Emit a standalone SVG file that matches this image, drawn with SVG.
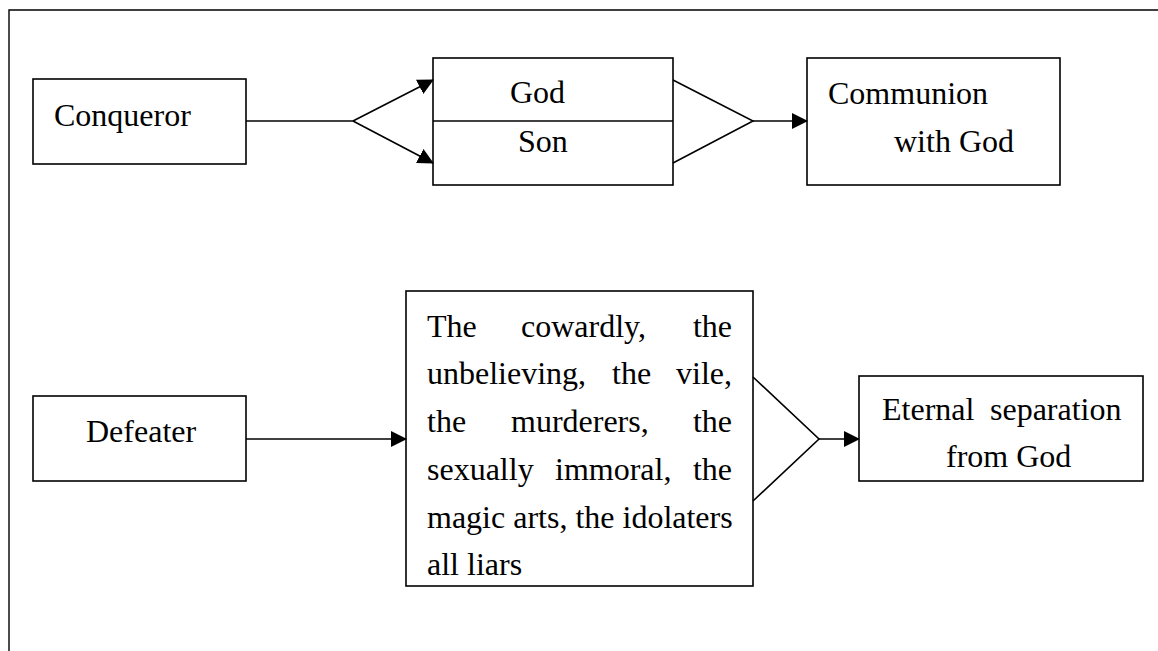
<svg xmlns="http://www.w3.org/2000/svg" width="1158" height="651" viewBox="0 0 1158 651">
<style>
.box{fill:#fff;stroke:#000;stroke-width:1.6}
.ln{fill:none;stroke:#000;stroke-width:1.6}
.t{font-family:"Liberation Serif","Times New Roman",serif;font-size:32px;fill:#000}
</style>
<defs>
<marker id="ah" markerUnits="userSpaceOnUse" markerWidth="16" markerHeight="16" viewBox="0 0 16 16" refX="15" refY="8" orient="auto">
<path d="M0,0 L16,8 L0,16 z" fill="#000"/>
</marker>
</defs>
<rect width="1158" height="651" fill="#fff"/>
<path d="M9,651 V10 H1158" fill="none" stroke="#000" stroke-width="1.4"/>

<g id="conqueror">
<rect class="box" x="33" y="79" width="213" height="85"/>
<text class="t" x="54" y="126">Conqueror</text>
</g>
<g id="god-son">
<rect class="box" x="433" y="58" width="240" height="127"/>
<line class="ln" x1="433" y1="121" x2="673" y2="121"/>
<text class="t" x="510" y="103">God</text>
<text class="t" x="518" y="152">Son</text>
</g>
<g id="communion">
<rect class="box" x="807" y="58" width="253" height="127"/>
<text class="t" x="828" y="104">Communion</text>
<text class="t" x="894" y="152">with God</text>
</g>
<g id="defeater">
<rect class="box" x="33" y="396" width="213" height="85"/>
<text class="t" x="86" y="442">Defeater</text>
</g>
<g id="sinners">
<rect class="box" x="406" y="291" width="347" height="295"/>
<text class="t" y="337"><tspan x="427">The</tspan><tspan x="521">cowardly,</tspan><tspan x="732" text-anchor="end">the</tspan></text>
<text class="t" y="384"><tspan x="427">unbelieving,</tspan><tspan x="612">the</tspan><tspan x="732" text-anchor="end">vile,</tspan></text>
<text class="t" y="432"><tspan x="427">the</tspan><tspan x="511">murderers,</tspan><tspan x="732" text-anchor="end">the</tspan></text>
<text class="t" y="480"><tspan x="427">sexually</tspan><tspan x="555">immoral,</tspan><tspan x="732" text-anchor="end">the</tspan></text>
<text class="t" x="427" y="528">magic arts, the idolaters</text>
<text class="t" x="427" y="575">all liars</text>
</g>
<g id="separation">
<rect class="box" x="859" y="376" width="284" height="105"/>
<text class="t" y="420"><tspan x="882">Eternal</tspan><tspan x="990">separation</tspan></text>
<text class="t" x="946" y="467">from God</text>
</g>

<g id="connectors">
<polyline class="ln" points="246,121 353,121"/>
<line class="ln" x1="353" y1="121" x2="433" y2="80" marker-end="url(#ah)"/>
<line class="ln" x1="353" y1="121" x2="433" y2="163" marker-end="url(#ah)"/>
<polyline class="ln" points="673,80 753,121 673,163"/>
<line class="ln" x1="753" y1="121" x2="807" y2="121" marker-end="url(#ah)"/>
<line class="ln" x1="246" y1="439" x2="406" y2="439" marker-end="url(#ah)"/>
<polyline class="ln" points="753,377 819,439 753,501"/>
<line class="ln" x1="819" y1="439" x2="859" y2="439" marker-end="url(#ah)"/>
</g>
</svg>
